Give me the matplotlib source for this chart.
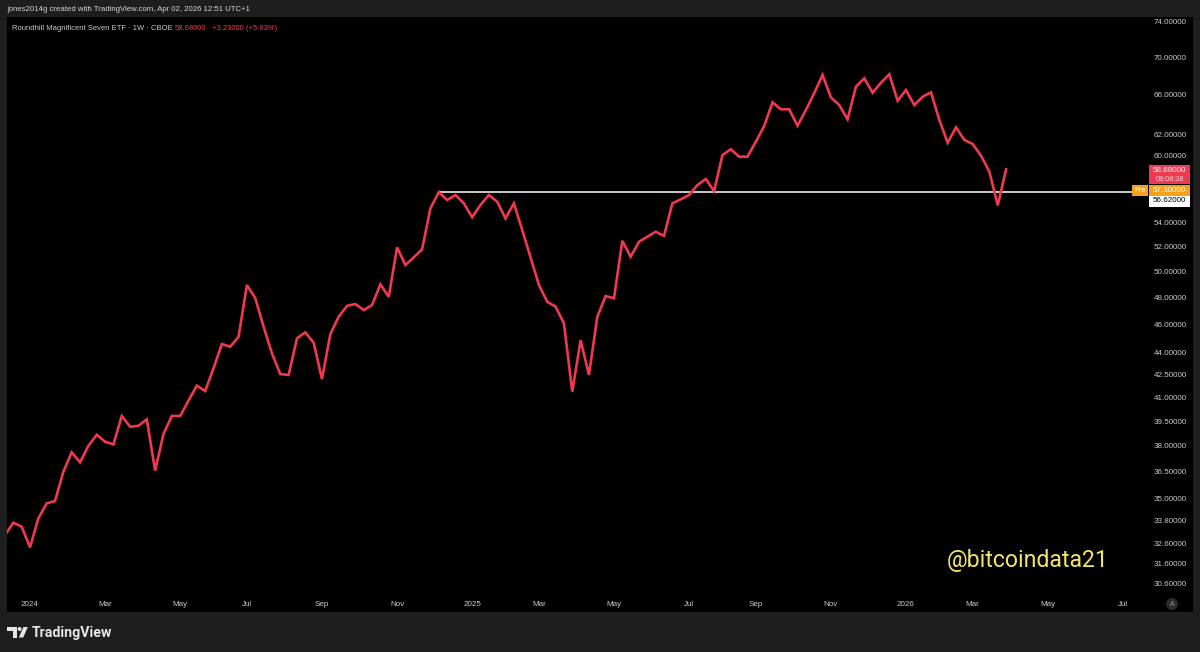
import matplotlib
matplotlib.use('Agg')
import matplotlib.pyplot as plt
import matplotlib.dates as mdates
from matplotlib.patches import Rectangle, Polygon, Ellipse
from matplotlib.ticker import NullLocator, NullFormatter, FixedLocator, FixedFormatter
import pandas as pd

# ---------------- data ----------------
first_bar = '2023-12-11'          # weekly bars (Mondays)
closes = [33.03, 33.68, 33.47, 32.40, 33.91, 34.72, 34.85, 36.49, 37.62, 37.03,
          38.01, 38.67, 38.25, 38.09, 39.83, 39.16, 39.22, 39.62, 36.55, 38.72,
          39.83, 39.83, 40.80, 41.77, 41.42, 42.93, 44.60, 44.41, 45.11, 48.93,
          47.94, 45.82, 43.95, 42.54, 42.48, 45.00, 45.42, 44.69, 42.21, 45.30,
          46.55, 47.35, 47.49, 47.04, 47.41, 48.98, 48.03, 51.91, 50.49, 51.10,
          51.76, 55.20, 56.62, 55.92, 56.36, 55.63, 54.42, 55.49, 56.36, 55.77,
          54.33, 55.63, 53.35, 51.10, 48.93, 47.66, 47.29, 46.07, 41.38, 44.87,
          42.48, 46.55, 48.09, 47.92, 52.45, 51.15, 52.37, 52.79, 53.20, 52.86,
          55.63, 55.98, 56.36, 57.25, 57.80, 56.71, 60.01, 60.56, 59.86, 59.86,
          61.28, 62.81, 65.19, 64.49, 64.49, 62.84, 64.41, 66.13, 68.06, 65.71,
          64.92, 63.48, 66.81, 67.70, 66.19, 67.24, 68.13, 65.36, 66.46, 64.92,
          65.77, 66.23, 63.41, 61.19, 62.68, 61.45, 61.06, 59.95, 58.46, 55.45, 58.68]

hline_level = 56.62
hline_start = '2024-12-09'
last_price = 58.68
change_abs = 3.23
change_pct = 5.83
pre_price = 57.30
countdown = '08:08:38'

y_ticks = [74, 70, 66, 62, 60, 54, 52, 50, 48, 46, 44, 42.5, 41, 39.5, 38,
           36.5, 35, 33.8, 32.6, 31.6, 30.6]
x_tick_months = ['2024-01', '2024-03', '2024-05', '2024-07', '2024-09', '2024-11',
                 '2025-01', '2025-03', '2025-05', '2025-07', '2025-09', '2025-11',
                 '2026-01', '2026-03', '2026-05', '2026-07']
x_tick_labels = ['2024', 'Mar', 'May', 'Jul', 'Sep', 'Nov',
                 '2025', 'Mar', 'May', 'Jul', 'Sep', 'Nov',
                 '2026', 'Mar', 'May', 'Jul']

header_text = 'jones2014g created with TradingView.com, Apr 02, 2026 12:51 UTC+1'
title_text = 'Roundhill Magnificent Seven ETF \u00b7 1W \u00b7 CBOE'
watermark = '@bitcoindata21'

# ---------------- style ----------------
W, H = 1200, 652
BG = '#1e1e1e'
LINE = '#f0394f'
TXT = '#c9c9c9'
FONT = 'Liberation Sans'
FS = 5.8

def fx(x):
    return x / W

def fy(y):
    return 1 - y / H

fig = plt.figure(figsize=(W / 100, H / 100), dpi=100, facecolor=BG)

# black chart area (pane + scales)
fig.patches.append(Rectangle((fx(7), fy(612)), (1193 - 7) / W, (612 - 17) / H,
                             transform=fig.transFigure, facecolor='black',
                             edgecolor='none', zorder=-10))

ax = fig.add_axes([fx(7), fy(597), (1146 - 7) / W, (597 - 17) / H])
ax.set_facecolor('black')
ax.patch.set_alpha(0)
for s in ax.spines.values():
    s.set_visible(False)

dates = pd.date_range(first_bar, periods=len(closes), freq='W-MON')
ax.plot(dates, closes, color=LINE, lw=1.9, solid_joinstyle='miter', zorder=3)

ax.set_yscale('log')
ax.set_ylim(29.97, 74.55)
ref = pd.Timestamp('2024-01-01')
ax.set_xlim(mdates.date2num(ref - pd.Timedelta(days=19.3)),
            mdates.date2num(ref + pd.Timedelta(days=936.4)))

# horizontal level line
ax.plot([pd.Timestamp(hline_start), ref + pd.Timedelta(days=1000)],
        [hline_level, hline_level], color='white', lw=1.1, zorder=2)

# y axis on right
ax.yaxis.tick_right()
ax.yaxis.set_major_locator(FixedLocator(y_ticks))
ax.yaxis.set_major_formatter(FixedFormatter([f'{v:.5f}' for v in y_ticks]))
ax.yaxis.set_minor_locator(NullLocator())
ax.yaxis.set_minor_formatter(NullFormatter())
ax.tick_params(axis='y', length=0, pad=5.6, labelsize=FS, labelcolor=TXT)
for lab in ax.get_yticklabels():
    lab.set_fontfamily(FONT)

# x axis month ticks (first weekly bar of each month)
xt = []
for m in x_tick_months:
    d = pd.Timestamp(m + '-01')
    xt.append(d + pd.Timedelta(days=(7 - d.weekday()) % 7))
ax.set_xticks(xt)
ax.set_xticklabels(x_tick_labels)
ax.tick_params(axis='x', length=0, pad=3.0, labelsize=FS, labelcolor=TXT)
for lab in ax.get_xticklabels():
    lab.set_fontfamily(FONT)
ax.grid(False)

# ---------------- texts ----------------
fig.text(fx(7), fy(9.5), header_text, color='#d6d6d6', fontsize=5.6,
         family=FONT, va='center', ha='left')
fig.text(fx(12), fy(28), title_text, color=TXT, fontsize=5.5,
         family=FONT, va='center', ha='left')
fig.text(fx(175), fy(28), f'{last_price:.5f}', color=LINE, fontsize=5.5,
         family=FONT, va='center', ha='left')
fig.text(fx(212), fy(28), f'+{change_abs:.5f} (+{change_pct:.2f}%)', color=LINE,
         fontsize=5.5, family=FONT, va='center', ha='left')

fig.text(fx(947), fy(560), watermark, color='#f3e46a', fontsize=16.6,
         family='Roboto', va='center', ha='left')

# price-scale labels
def box(x0, y0, x1, y1, color):
    fig.patches.append(Rectangle((fx(x0), fy(y1)), (x1 - x0) / W, (y1 - y0) / H,
                                 transform=fig.transFigure, facecolor=color,
                                 edgecolor='none', zorder=5))

box(1149, 165.5, 1190, 184, '#ee3a52')
fig.text(fx(1169.5), fy(170.5), f'{last_price:.5f}', color='white', fontsize=FS,
         family=FONT, ha='center', va='center', zorder=6)
fig.text(fx(1169.5), fy(179), countdown, color='#ffd6dc', fontsize=5.2,
         family=FONT, ha='center', va='center', zorder=6)
box(1132, 184.5, 1148, 195.5, '#f5a11c')
fig.text(fx(1140), fy(190), 'Pre', color='white', fontsize=5.2,
         family=FONT, ha='center', va='center', zorder=6)
box(1149, 184.5, 1190, 195.5, '#f5a11c')
fig.text(fx(1169.5), fy(190), f'{pre_price:.5f}', color='white', fontsize=FS,
         family=FONT, ha='center', va='center', zorder=6)
box(1149, 195.5, 1190, 206.5, 'white')
fig.text(fx(1169.5), fy(201), f'{hline_level:.5f}', color='black', fontsize=FS,
         family=FONT, ha='center', va='center', zorder=6)

# auto-scale button
fig.patches.append(Ellipse((fx(1172), fy(604)), 12 / W, 12 / H,
                           transform=fig.transFigure, facecolor='#2b2b2b',
                           edgecolor='none', zorder=5))
fig.text(fx(1172), fy(604), 'A', color='#9a9a9a', fontsize=5.0,
         family=FONT, ha='center', va='center', zorder=6)

# TradingView logo
LOGO = '#e6e6e6'
def poly(pts):
    fig.patches.append(Polygon([(fx(x), fy(y)) for x, y in pts], closed=True,
                               transform=fig.transFigure, facecolor=LOGO,
                               edgecolor='none', zorder=5))

poly([(7.3, 627), (16.7, 627), (16.7, 637.5), (12.6, 637.5), (12.6, 631), (7.3, 631)])
fig.patches.append(Ellipse((fx(19.6), fy(629)), 4 / W, 4 / H,
                           transform=fig.transFigure, facecolor=LOGO,
                           edgecolor='none', zorder=5))
poly([(23.5, 627), (27.8, 627), (23.2, 637.5), (18.8, 637.5)])
fig.text(fx(32), fy(632.5), 'TradingView', color=LOGO, fontsize=10.2,
         family='Roboto', fontweight='bold', ha='left', va='center')

fig.savefig('out.png', dpi=100, facecolor=BG)
